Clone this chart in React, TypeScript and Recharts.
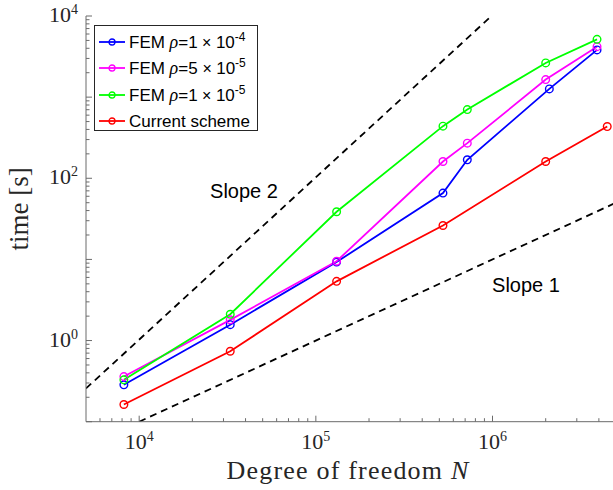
import React from "react"
import { LineChart, Line, XAxis, YAxis, Legend, Customized } from "recharts"

// ─── data (log-log) ───────────────────────────────────────────────────────────
const DOF = [8192, 32768, 131072, 524288, 720000, 2000000, 3905000]
const DOF_BLUE = [8192, 32768, 131072, 524288, 720000, 2097152, 3905000]
const DOF_RED = [8192, 32768, 131072, 524288, 2000000, 4460000]

const T_RHO_1E4 = [0.285, 1.57, 9.3, 65.7, 169, 1264, 3820]
const T_RHO_5E5 = [0.36, 1.8, 9.5, 161, 271, 1645, 4190]
const T_RHO_1E5 = [0.328, 2.11, 38.7, 439, 703, 2640, 5160]
const T_CURRENT = [0.163, 0.738, 5.37, 26.2, 161, 434]

const SLOPE2_N = [5000, 1000000]
const SLOPE2_T = [0.257, 10280]
const SLOPE1_N = [10000, 5000000]
const SLOPE1_T = [0.1, 50]

const X_MAJOR = [1e4, 1e5, 1e6]
const X_MINOR = [6e3, 7e3, 8e3, 9e3, 2e4, 3e4, 4e4, 5e4, 6e4, 7e4, 8e4, 9e4,
  2e5, 3e5, 4e5, 5e5, 6e5, 7e5, 8e5, 9e5, 2e6, 3e6, 4e6]
const Y_MAJOR = [1e-1, 1, 1e1, 1e2, 1e3, 1e4]
const Y_LABELED = [1, 1e2, 1e4]
const Y_MINOR = [0.2, 0.3, 0.4, 0.5, 0.6, 0.7, 0.8, 0.9, 2, 3, 4, 5, 6, 7, 8, 9,
  20, 30, 40, 50, 60, 70, 80, 90, 200, 300, 400, 500, 600, 700, 800, 900,
  2000, 3000, 4000, 5000, 6000, 7000, 8000, 9000]

const toRows = (ns: number[], ts: number[]) => ns.map((n, i) => ({ n, t: ts[i] }))

const SERIES = [
  { key: "rho1e4", color: "#0000ff", data: toRows(DOF_BLUE, T_RHO_1E4), rho: "1", exp: "-4" },
  { key: "rho5e5", color: "#ff00ff", data: toRows(DOF, T_RHO_5E5), rho: "5 ", exp: "-5" },
  { key: "rho1e5", color: "#00ff00", data: toRows(DOF, T_RHO_1E5), rho: "1", exp: "-5" },
  { key: "current", color: "#ff0000", data: toRows(DOF_RED, T_CURRENT), rho: null, exp: null },
]

const AXIS = "#6b6b6b"
const TXT = "#262626"
const SERIF = "'Liberation Serif', 'Times New Roman', serif"
const SANS = "'Liberation Sans', Arial, sans-serif"
const X_DOMAIN = [5000, 5000000]
const Y_DOMAIN = [0.1, 10000]

const exponent = (v: number) => String(Math.round(Math.log10(v)))

// ─── ticks (inward, MATLAB style) ─────────────────────────────────────────────
function BottomTick({ x, y, payload }: any) {
  const major = X_MAJOR.includes(payload.value)
  return (
    <g>
      <line x1={x} x2={x} y1={y} y2={y - (major ? 6 : 3.5)} stroke={AXIS} />
      {major && (
        <text x={x} y={y + 27} textAnchor="middle" fill={TXT} fontFamily={SERIF} fontSize={22}>
          10<tspan dy={-8} fontSize={14}>{exponent(payload.value)}</tspan>
        </text>
      )}
    </g>
  )
}

function TopTick({ x, y, payload }: any) {
  const major = X_MAJOR.includes(payload.value)
  return <line x1={x} x2={x} y1={y} y2={y + (major ? 6 : 3.5)} stroke={AXIS} />
}

function LeftTick({ x, y, payload }: any) {
  const v = payload.value
  const major = Y_MAJOR.includes(v)
  return (
    <g>
      <line x1={x} x2={x + (major ? 6 : 3.5)} y1={y} y2={y} stroke={AXIS} />
      {Y_LABELED.includes(v) && (
        <text x={x - 8} y={y + 6} textAnchor="end" fill={TXT} fontFamily={SERIF} fontSize={22}>
          10<tspan dy={-8} fontSize={14}>{exponent(v)}</tspan>
        </text>
      )}
    </g>
  )
}

function RightTick({ x, y, payload }: any) {
  const major = Y_MAJOR.includes(payload.value)
  return <line x1={x} x2={x - (major ? 6 : 3.5)} y1={y} y2={y} stroke={AXIS} />
}

// ─── legend box ───────────────────────────────────────────────────────────────
function LegendBox() {
  return (
    <div
      style={{
        width: 164, height: 106, boxSizing: "border-box", padding: "3px 0 0 0",
        border: `1px solid ${TXT}`, background: "#fff",
        fontFamily: SANS, fontSize: 17, color: "#000", lineHeight: 1,
      }}
    >
      {SERIES.map((s) => (
        <div key={s.key} style={{ height: 26.3, display: "flex", alignItems: "center" }}>
          <svg width={31} height={10} style={{ marginLeft: 3, flex: "none" }}>
            <line x1={1} x2={27} y1={5} y2={5} stroke={s.color} strokeWidth={1.8} />
            <circle cx={14} cy={5} r={3} fill="none" stroke={s.color} strokeWidth={1.3} />
          </svg>
          <span style={{ whiteSpace: "nowrap" }}>
            {s.rho === null ? (
              "Current scheme"
            ) : (
              <>
                FEM <i style={{ fontFamily: SERIF, fontSize: 18 }}>ρ</i>={s.rho}
                <span style={{ fontSize: 16 }}> × </span>10
                <span style={{ fontSize: 12, position: "relative", top: -7 }}>{s.exp}</span>
              </>
            )}
          </span>
        </div>
      ))}
    </div>
  )
}

function SlopeNotes() {
  return (
    <g fontFamily={SANS} fontSize={20} fill="#000">
      <text x={244} y={198} textAnchor="middle">Slope 2</text>
      <text x={526} y={292} textAnchor="middle">Slope 1</text>
    </g>
  )
}

export default function App() {
  return (
    <div style={{ position: "absolute", left: 0, top: 0, width: 613, height: 490, overflow: "hidden", background: "#fff" }}>
      <LineChart width={620} height={490} margin={{ top: 16, right: 4, bottom: 0, left: 0 }}>
        <XAxis
          dataKey="n" type="number" scale="log" domain={X_DOMAIN} allowDataOverflow
          ticks={[...X_MAJOR, ...X_MINOR]} interval={0} height={68.3}
          tickLine={false} tickSize={0} tickMargin={0} tick={<BottomTick />}
          axisLine={{ stroke: AXIS }}
          label={({ viewBox }: any) => (
            <text x={viewBox.x + viewBox.width / 2 - 3} y={479} textAnchor="middle" fill={TXT}
              fontFamily={SERIF} fontSize={26} letterSpacing={1.2}>
              Degree of freedom <tspan fontStyle="italic">N</tspan>
            </text>
          )}
        />
        <XAxis
          xAxisId="top" orientation="top" type="number" scale="log" domain={X_DOMAIN} allowDataOverflow
          ticks={[...X_MAJOR, ...X_MINOR]} interval={0} height={0}
          tickLine={false} tickSize={0} tickMargin={0} tick={<TopTick />}
          axisLine={{ stroke: AXIS }}
        />
        <YAxis
          type="number" scale="log" domain={Y_DOMAIN} allowDataOverflow
          ticks={[...Y_MAJOR, ...Y_MINOR]} interval={0} width={86}
          tickLine={false} tickSize={0} tickMargin={0} tick={<LeftTick />}
          axisLine={{ stroke: AXIS }}
          label={({ viewBox }: any) => (
            <text
              transform={`translate(28,${viewBox.y + viewBox.height / 2 - 10}) rotate(-90)`}
              textAnchor="middle" fill={TXT} fontFamily={SERIF} fontSize={27}
            >
              time [s]
            </text>
          )}
        />
        <YAxis
          yAxisId="right" orientation="right" type="number" scale="log" domain={Y_DOMAIN} allowDataOverflow
          ticks={[...Y_MAJOR, ...Y_MINOR]} interval={0} width={0}
          tickLine={false} tickSize={0} tickMargin={0} tick={<RightTick />}
          axisLine={{ stroke: AXIS }}
        />

        <Line data={toRows(SLOPE2_N, SLOPE2_T)} dataKey="t" stroke="#000" strokeWidth={1.8}
          strokeDasharray="7 5" dot={false} isAnimationActive={false} legendType="none" />
        <Line data={toRows(SLOPE1_N, SLOPE1_T)} dataKey="t" stroke="#000" strokeWidth={1.8}
          strokeDasharray="7 5" dot={false} isAnimationActive={false} legendType="none" />

        {SERIES.map((s) => (
          <Line
            key={s.key} data={s.data} dataKey="t" name={s.key} stroke={s.color} strokeWidth={1.8}
            dot={{ r: 3.8, stroke: s.color, strokeWidth: 1.4, fill: "none" }}
            isAnimationActive={false}
          />
        ))}

        <Legend
          layout="vertical" align="center" verticalAlign="middle"
          wrapperStyle={{ top: 25, left: 94, width: "auto" }}
          content={() => <LegendBox />}
        />
        <Customized component={SlopeNotes} />
      </LineChart>
    </div>
  )
}
